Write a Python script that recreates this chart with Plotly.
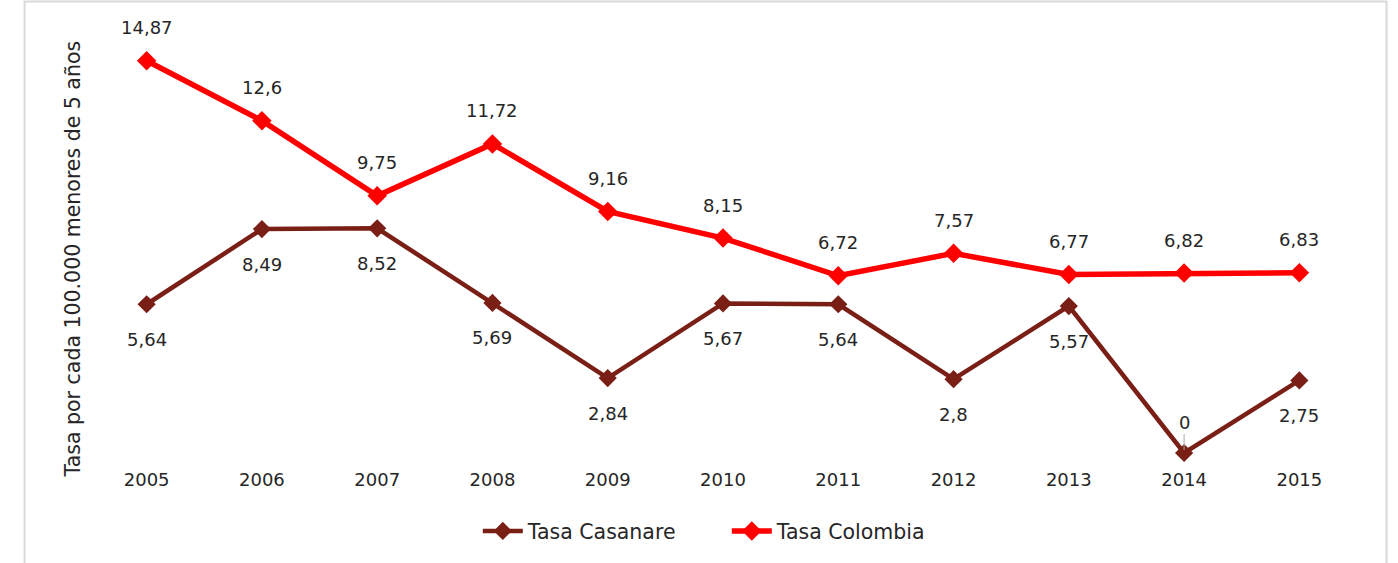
import plotly.graph_objects as go

years = ["2005", "2006", "2007", "2008", "2009", "2010", "2011", "2012", "2013", "2014", "2015"]
casanare = [5.64, 8.49, 8.52, 5.69, 2.84, 5.67, 5.64, 2.80, 5.57, 0.0, 2.75]
colombia = [14.87, 12.60, 9.75, 11.72, 9.16, 8.15, 6.72, 7.57, 6.77, 6.82, 6.83]
casanare_labels = ["5,64", "8,49", "8,52", "5,69", "2,84", "5,67", "5,64", "2,8", "5,57", "0", "2,75"]
colombia_labels = ["14,87", "12,6", "9,75", "11,72", "9,16", "8,15", "6,72", "7,57", "6,77", "6,82", "6,83"]

C_CAS = "#7a1f16"
C_COL = "#ff0000"
FONT = "DejaVu Sans"
TXT = "#262626"

fig = go.Figure()
fig.add_trace(go.Scatter(x=years, y=casanare, name="Tasa Casanare", mode="lines+markers",
                         line=dict(color=C_CAS, width=4.5),
                         marker=dict(symbol="diamond", size=14, color=C_CAS)))
fig.add_trace(go.Scatter(x=years, y=colombia, name="Tasa Colombia", mode="lines+markers",
                         line=dict(color=C_COL, width=5.5),
                         marker=dict(symbol="diamond", size=15, color=C_COL)))

ann = []
for i, (v, t) in enumerate(zip(colombia, colombia_labels)):
    ann.append(dict(x=i, y=v, xref="x", yref="y", text=t, showarrow=False, yshift=33,
                    font=dict(size=18, color=TXT, family=FONT)))
for i, (v, t) in enumerate(zip(casanare, casanare_labels)):
    if v == 0:
        ann.append(dict(x=i, y=v, xref="x", yref="y", text=t, showarrow=True, ax=0, ay=-31,
                        arrowhead=0, arrowwidth=1, arrowcolor="#a6a6a6", standoff=3,
                        font=dict(size=18, color=TXT, family=FONT)))
    else:
        ann.append(dict(x=i, y=v, xref="x", yref="y", text=t, showarrow=False, yshift=-35,
                        font=dict(size=18, color=TXT, family=FONT)))

ann.append(dict(xref="paper", yref="paper", x=-0.013, y=0.46, text="Tasa por cada 100.000 menores de 5 años",
                textangle=-90, showarrow=False, xanchor="center", yanchor="middle",
                font=dict(size=20.5, color=TXT, family=FONT)))

fig.update_layout(
    width=1398, height=563,
    margin=dict(l=89.4, r=41.4, t=31, b=110),
    paper_bgcolor="white", plot_bgcolor="white",
    font=dict(family=FONT, size=18, color=TXT),
    showlegend=True,
    legend=dict(orientation="h", x=0.503, y=-0.185, xanchor="center", yanchor="middle",
                font=dict(size=20.5, color=TXT, family=FONT), itemwidth=40,
                entrywidth=194, entrywidthmode="pixels"),
    xaxis=dict(type="category", range=[-0.5, 10.5], showgrid=False, zeroline=False,
               showline=False, ticks="", ticklabelstandoff=14,
               tickfont=dict(size=18, color=TXT, family=FONT)),
    yaxis=dict(range=[0, 16], showgrid=False, zeroline=False, showline=False,
               showticklabels=False, ticks=""),
    annotations=ann,
    shapes=[dict(type="rect", xref="paper", yref="paper", x0=-0.0508, x1=1.0233, y0=-0.5, y1=1.0699,
                 line=dict(color="#d9d9d9", width=2), fillcolor="rgba(0,0,0,0)", layer="below")],
)
for tr in fig.data:
    tr.cliponaxis = False

fig.write_html("out.html", config={"displayModeBar": False},
               post_script="document.body.style.margin='0';document.body.style.overflow='hidden';")
